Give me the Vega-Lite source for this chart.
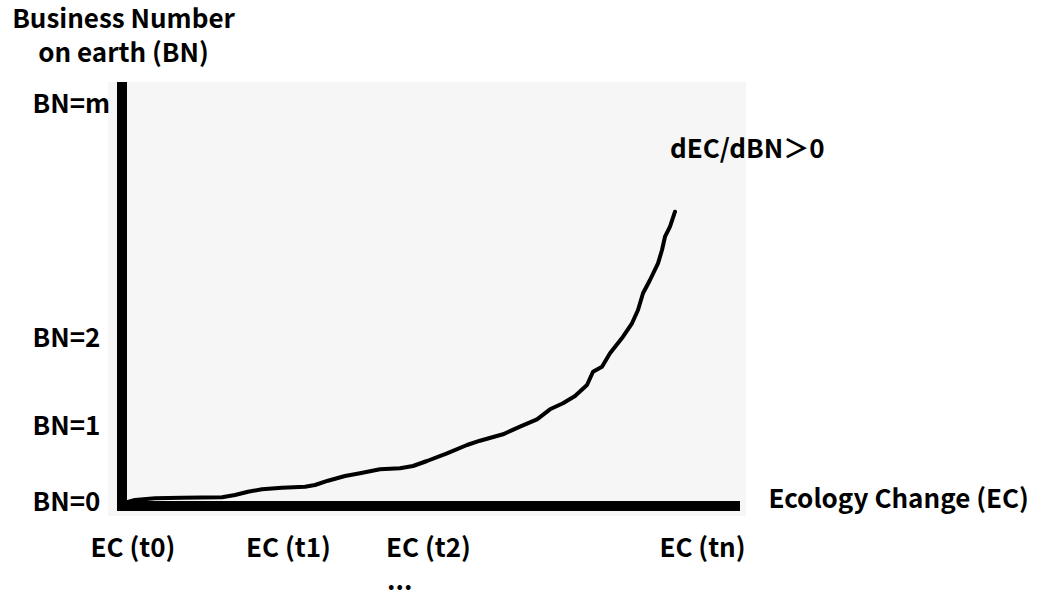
{
  "$schema": "https://vega.github.io/schema/vega-lite/v6.json",
  "width": 638,
  "height": 434,
  "autosize": {"type": "none"},
  "padding": {"left": 108, "top": 82, "right": 297, "bottom": 80},
  "background": "white",
  "config": {
    "view": {"fill": "#f6f6f6", "stroke": null},
    "font": "Noto Sans CJK SC"
  },
  "datasets": {
    "curve": [
      {"ec": 0.15, "bn": 0.165}, {"ec": 0.65, "bn": 0.3}, {"ec": 1.65, "bn": 0.385},
      {"ec": 3.0, "bn": 0.415}, {"ec": 5.0, "bn": 0.435}, {"ec": 5.65, "bn": 0.55},
      {"ec": 6.3, "bn": 0.715}, {"ec": 7.0, "bn": 0.835}, {"ec": 8.0, "bn": 0.915},
      {"ec": 9.15, "bn": 0.965}, {"ec": 9.65, "bn": 1.05}, {"ec": 10.3, "bn": 1.265},
      {"ec": 11.15, "bn": 1.5}, {"ec": 11.9, "bn": 1.635}, {"ec": 12.9, "bn": 1.835},
      {"ec": 13.9, "bn": 1.885}, {"ec": 14.55, "bn": 2.0}, {"ec": 15.25, "bn": 2.25},
      {"ec": 16.25, "bn": 2.635}, {"ec": 17.25, "bn": 3.05}, {"ec": 17.9, "bn": 3.265},
      {"ec": 19.05, "bn": 3.585}, {"ec": 19.9, "bn": 3.965}, {"ec": 20.75, "bn": 4.335},
      {"ec": 21.4, "bn": 4.835}, {"ec": 22.05, "bn": 5.135}, {"ec": 22.65, "bn": 5.5},
      {"ec": 23.25, "bn": 6.05}, {"ec": 23.55, "bn": 6.715}, {"ec": 24.0, "bn": 6.965},
      {"ec": 24.4, "bn": 7.635}, {"ec": 25.05, "bn": 8.465}, {"ec": 25.5, "bn": 9.135},
      {"ec": 25.8, "bn": 9.8}, {"ec": 26.05, "bn": 10.635}, {"ec": 26.4, "bn": 11.3},
      {"ec": 26.8, "bn": 12.135}, {"ec": 27.0, "bn": 12.8}, {"ec": 27.15, "bn": 13.465},
      {"ec": 27.4, "bn": 13.965}, {"ec": 27.65, "bn": 14.715}
    ],
    "notes": [
      {"ec": 27.4, "bn": 17.8, "label": "dEC/dBN＞0"}
    ],
    "dots": [
      {"ec": 13.25, "bn": -4.2, "label": "..."}
    ]
  },
  "layer": [
    {
      "data": {"name": "curve"},
      "mark": {"type": "line", "color": "black", "strokeWidth": 4, "strokeJoin": "round", "strokeCap": "round"},
      "encoding": {
        "x": {
          "field": "ec", "type": "quantitative",
          "scale": {"domain": [-0.7, 31.2], "nice": false, "zero": false},
          "axis": {
            "values": [0.525, 8.3, 15.3, 29.0],
            "labelExpr": "datum.value < 5 ? 'EC (t0)' : datum.value < 10 ? 'EC (t1)' : datum.value < 20 ? 'EC (t2)' : 'EC (tn)'",
            "domain": false, "ticks": false, "tickSize": 0, "grid": false,
            "labelFontSize": 26, "labelFontWeight": "bold", "labelColor": "black",
            "labelPadding": 19, "labelFlush": false, "labelOverlap": false, "labelBound": false,
            "title": "Ecology Change (EC)", "titleX": 660, "titleY": -17,
            "titleAlign": "left", "titleBaseline": "middle", "titleAnchor": "start",
            "titleFontSize": 26, "titleFontWeight": "bold", "titleColor": "black"
          }
        },
        "y": {
          "field": "bn", "type": "quantitative",
          "scale": {"domain": [-0.5, 21.2], "nice": false, "zero": false},
          "axis": {
            "values": [0.175, 4.0, 8.4, 20.1],
            "labelExpr": "datum.value < 1 ? 'BN=0' : datum.value < 5 ? 'BN=1' : datum.value < 10 ? 'BN=2' : 'BN=m'",
            "domain": false, "ticks": false, "tickSize": 0, "grid": false,
            "labelAlign": "left", "labelBaseline": "middle",
            "labelFontSize": 26, "labelFontWeight": "bold", "labelColor": "black",
            "labelPadding": 76, "labelFlush": false, "labelOverlap": false, "labelBound": false,
            "title": ["Business Number", "on earth (BN)"], "titleAngle": 0,
            "titleX": 15, "titleY": -76, "titleAlign": "center", "titleBaseline": "top",
            "titleLineHeight": 34, "titleFontSize": 26, "titleFontWeight": "bold", "titleColor": "black"
          }
        }
      }
    },
    {
      "data": {"name": "curve"},
      "mark": {"type": "rule", "color": "black", "strokeWidth": 9},
      "encoding": {
        "x": {"datum": 0, "type": "quantitative"},
        "y": {"datum": -0.25, "type": "quantitative"},
        "y2": {"datum": 21.2}
      }
    },
    {
      "data": {"name": "curve"},
      "mark": {"type": "rule", "color": "black", "strokeWidth": 9},
      "encoding": {
        "x": {"datum": -0.25, "type": "quantitative"},
        "x2": {"datum": 30.9},
        "y": {"datum": 0, "type": "quantitative"}
      }
    },
    {
      "data": {"name": "notes"},
      "mark": {"type": "text", "align": "left", "baseline": "middle", "fontSize": 26, "fontWeight": "bold", "color": "black"},
      "encoding": {
        "x": {"field": "ec", "type": "quantitative", "title": "Ecology Change (EC)"},
        "y": {"field": "bn", "type": "quantitative", "title": ["Business Number", "on earth (BN)"]},
        "text": {"field": "label"}
      }
    },
    {
      "data": {"name": "dots"},
      "mark": {"type": "text", "align": "left", "baseline": "alphabetic", "fontSize": 26, "fontWeight": "bold", "color": "black"},
      "encoding": {
        "x": {"field": "ec", "type": "quantitative", "title": "Ecology Change (EC)"},
        "y": {"field": "bn", "type": "quantitative", "title": ["Business Number", "on earth (BN)"]},
        "text": {"field": "label"}
      }
    }
  ]
}
